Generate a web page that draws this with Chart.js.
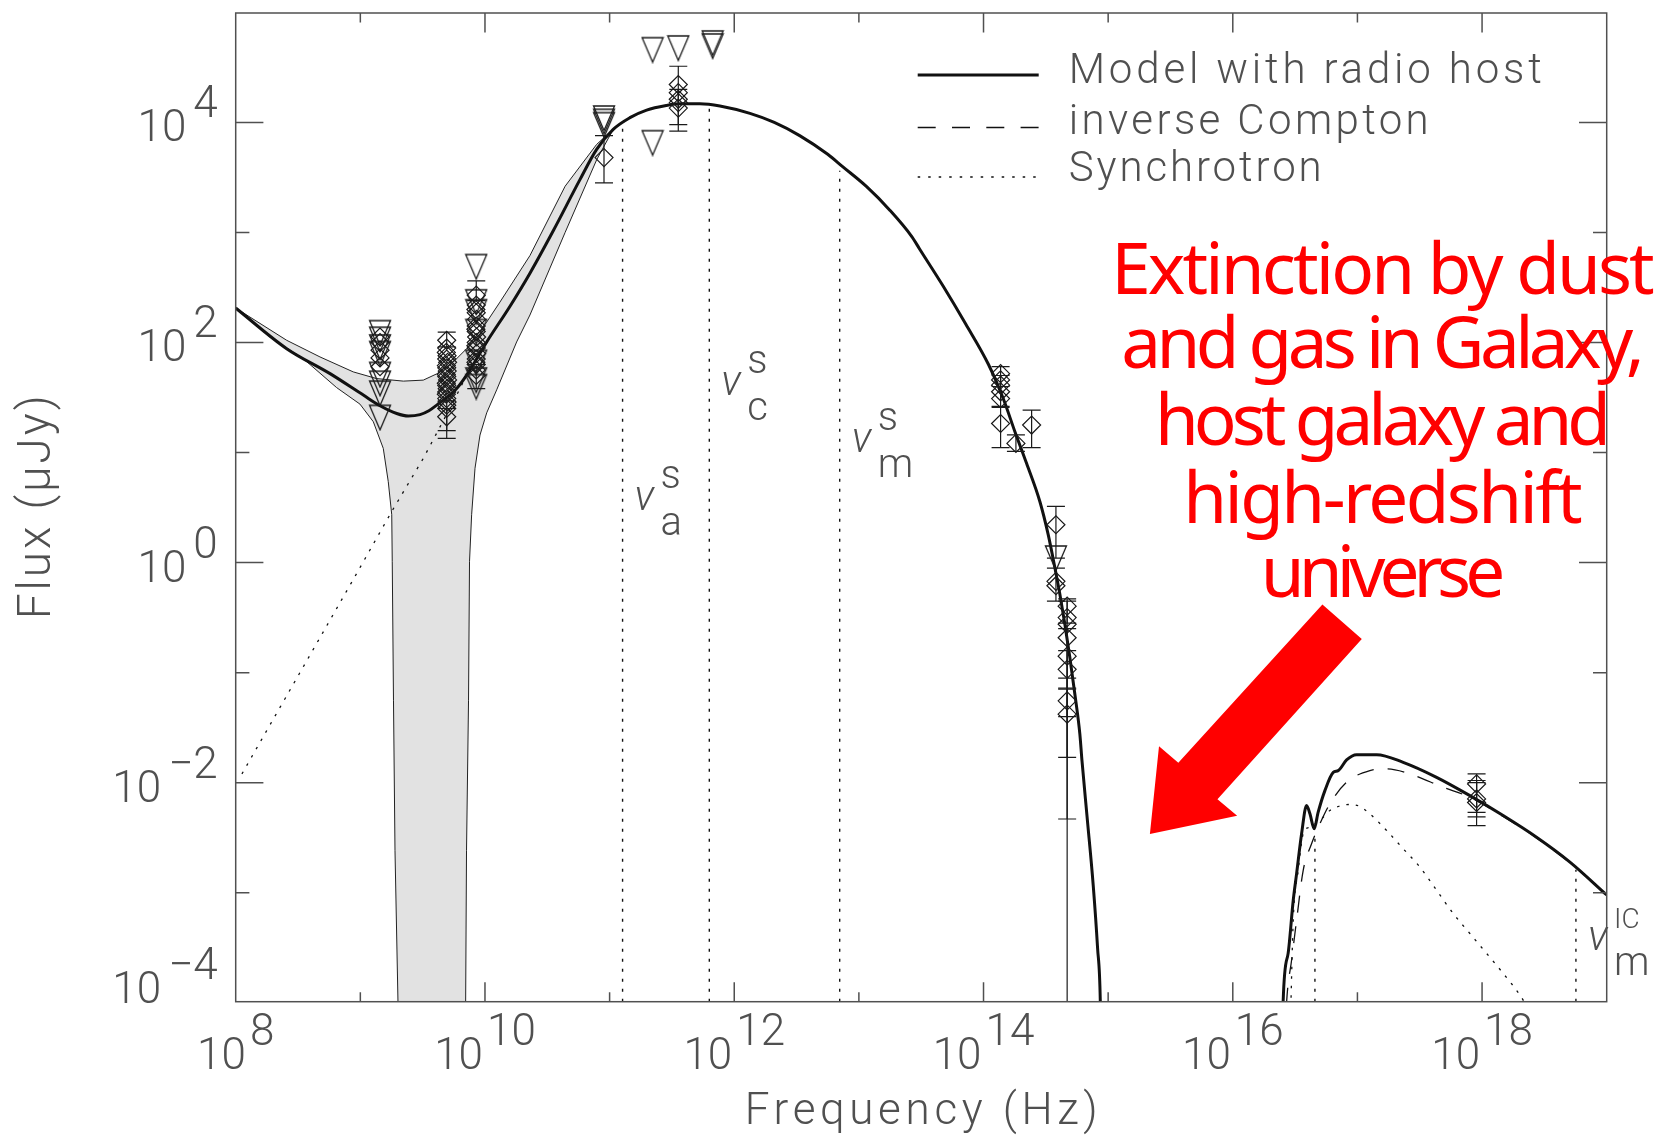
<!DOCTYPE html>
<html>
<head>
<meta charset="utf-8">
<script src="https://cdn.jsdelivr.net/npm/chart.js@4.4.1/dist/chart.umd.min.js"></script>
<style>
html,body{margin:0;padding:0;background:#fff;}
#wrap{position:relative;width:1672px;height:1136px;}
canvas{display:block;}
</style>
</head>
<body>
<div id="wrap"><canvas id="c" width="1672" height="1136"></canvas></div>
<script>
// ---------- DATA (log10 frequency [Hz], log10 flux [µJy]) ----------
const xTickExps = [8, 10, 12, 14, 16, 18];
const yTickExps = [-4, -2, 0, 2, 4];
const xRangeExp = [8, 19];
const yRangeExp = [-3.99, 4.994];

// Model with radio host (solid)
const modelCurve = [
 [8.000,2.313],[8.409,1.944],[8.757,1.717],[9.024,1.522],[9.158,1.425],[9.292,1.355],[9.385,1.332],[9.479,1.345],
 [9.550,1.380],[9.613,1.431],[9.773,1.582],[9.853,1.703],[10.014,2.005],[10.201,2.330],[10.361,2.630],
 [10.550,3.020],[10.762,3.480],[10.896,3.755],[11.029,3.937],[11.163,4.043],[11.297,4.112],[11.457,4.154],
 [11.564,4.169],[11.725,4.169],[11.885,4.149],[12.126,4.082],[12.321,4.000],[12.525,3.880],[12.750,3.710],
 [12.867,3.600],[13.058,3.420],[13.250,3.200],[13.426,2.960],[13.487,2.850],[13.672,2.520],[13.856,2.170],
 [14.040,1.800],[14.158,1.491],[14.252,1.189],[14.346,0.900],[14.452,0.555],[14.519,0.254],[14.573,-0.049],
 [14.613,-0.290],[14.653,-0.562],[14.693,-0.864],[14.733,-1.196],[14.773,-1.558],[14.790,-1.800],[14.830,-2.300],
 [14.880,-2.930],[14.915,-3.500],[14.937,-3.990],[14.960,-6],[16.380,-6],[16.404,-3.989],[16.444,-3.551],
 [16.485,-3.068],[16.512,-2.826],[16.552,-2.464],[16.592,-2.207],[16.619,-2.283],[16.653,-2.418],
 [16.685,-2.268],[16.739,-2.072],[16.806,-1.906],[16.846,-1.890],[16.913,-1.793],[16.993,-1.745],
 [17.154,-1.745],[17.367,-1.815],[17.635,-1.951],[17.902,-2.117],[18.169,-2.298],[18.437,-2.495],
 [18.705,-2.721],[19.000,-3.020]
];
// inverse Compton (dashed)
const icCurve = [
 [16.420,-4.3],[16.432,-3.99],[16.472,-3.611],[16.512,-3.249],[16.565,-2.796],[16.632,-2.554],[16.699,-2.373],
 [16.779,-2.192],[16.913,-1.996],[17.100,-1.890],[17.234,-1.875],[17.421,-1.920],[17.688,-2.042],
 [17.902,-2.132],[18.169,-2.307],[18.437,-2.502],[18.705,-2.728],[19.000,-3.018]
];
// Synchrotron (dotted), radio part and X-ray part
const syncRadio = [[8.05,-1.92],[8.943,-0.154],[9.252,0.465],[9.505,0.947],[9.746,1.461],[9.853,1.703],[10.014,2.005]];
const syncXray = [
 [16.460,-4.3],[16.485,-3.249],[16.525,-2.796],[16.565,-2.464],[16.613,-2.404],[16.699,-2.343],[16.779,-2.253],
 [16.940,-2.198],[17.020,-2.216],[17.100,-2.283],[17.234,-2.434],[17.367,-2.600],[17.501,-2.766],[17.635,-2.977],
 [17.768,-3.188],[17.902,-3.370],[18.036,-3.551],[18.169,-3.732],[18.303,-3.928],[18.380,-4.070]
];
// Shaded uncertainty band (upper and lower boundaries)
const bandUpper = [
 [8.000,2.313],[8.409,2.020],[8.676,1.869],[8.943,1.733],[9.131,1.672],[9.345,1.649],[9.505,1.658],
 [9.613,1.715],[9.746,1.823],[9.853,1.944],[10.014,2.186],[10.120,2.367],[10.361,2.790],[10.643,3.420],
 [10.896,3.800],[11.029,3.937]
];
const bandLower = [
 [8.000,2.313],[8.275,2.049],[8.542,1.853],[8.810,1.590],[8.997,1.440],[9.104,1.280],[9.184,1.038],
 [9.224,0.736],[9.252,0.435],[9.256,0.012],[9.266,-1.256],[9.278,-2.614],[9.302,-3.990],[9.310,-6],
 [9.840,-6],[9.845,-3.990],[9.852,-2.614],[9.868,-1.256],[9.876,0.012],[9.893,0.435],[9.920,0.857],
 [9.960,1.159],[10.014,1.361],[10.094,1.570],[10.254,2.005],[10.361,2.250],[10.643,3.000],[10.896,3.660],
 [11.029,3.937]
];
// Detections: [logNu, logF, errLow, errHigh]
const detections = [
 [9.158,2.05,null,null],[9.158,2.00,null,null],[9.158,1.93,null,null],[9.158,1.86,null,null],[9.158,1.78,null,null],
 [9.693,2.02,1.96,2.095],[9.693,1.95,null,null],[9.690,1.91,null,null],[9.696,1.88,null,null],[9.693,1.85,null,null],
 [9.700,1.82,null,null],[9.690,1.79,null,null],[9.693,1.77,null,null],[9.697,1.74,null,null],[9.690,1.71,null,null],
 [9.693,1.69,null,null],[9.700,1.66,null,null],[9.690,1.63,null,null],[9.693,1.61,null,null],[9.697,1.58,null,null],
 [9.693,1.55,null,null],[9.690,1.53,null,null],[9.693,1.49,null,null],[9.696,1.46,null,null],[9.693,1.43,null,null],
 [9.693,1.40,1.129,1.47],[9.693,1.325,1.20,1.40],
 [9.930,2.43,2.38,2.56],[9.930,2.34,null,null],[9.927,2.30,null,null],[9.930,2.27,null,null],[9.933,2.21,null,null],
 [9.930,2.15,null,null],[9.927,2.12,null,null],[9.930,2.10,null,null],[9.933,2.05,null,null],[9.930,2.00,null,null],
 [9.927,1.97,null,null],[9.930,1.95,null,null],[9.933,1.90,null,null],[9.930,1.85,null,null],[9.927,1.82,null,null],
 [9.930,1.80,null,null],[9.930,1.75,null,null],[9.930,1.70,1.58,1.80],
 [10.955,3.68,3.45,3.88],
 [11.551,4.344,null,null],[11.551,4.27,null,null],[11.551,4.21,3.92,4.51],[11.551,4.18,null,null],[11.551,4.13,3.98,4.30],
 [14.137,1.717,1.60,1.78],[14.137,1.66,null,null],[14.137,1.612,null,null],[14.137,1.552,1.42,1.70],[14.137,1.49,null,null],
 [14.137,1.264,1.045,1.41],[14.260,1.083,1.01,1.16],[14.386,1.25,1.045,1.385],[14.581,0.344,0.04,0.51],
 [14.581,-0.17,-0.35,-0.05],[14.581,-0.21,null,null],
 [14.671,-0.396,-0.55,-0.33],[14.671,-0.50,null,null],[14.671,-0.56,-5,-0.35],[14.671,-0.683,null,null],
 [14.671,-0.85,-1.77,-0.60],[14.671,-0.97,-1.14,-0.80],[14.671,-1.256,-1.40,-1.05],[14.671,-1.377,-2.33,-1.15],
 [17.956,-2.011,-2.27,-1.92],[17.956,-2.147,-2.31,-2.00],[17.956,-2.18,-2.39,-1.98]
];
// Upper limits (inverted triangles): [logNu, logF]
const upperLimits = [
 [9.158,2.09],[9.158,2.03],[9.158,1.96],[9.158,1.90],[9.158,1.71],[9.158,1.63],[9.158,1.54],[9.158,1.32],
 [9.930,2.69],[9.930,2.37],[9.930,2.28],[9.930,2.10],[9.930,1.82],[9.930,1.66],[9.930,1.60],
 [10.955,4.04],[10.955,4.01],[10.955,3.98],[11.345,4.661],[11.345,3.816],[11.551,4.677],[11.827,4.722],[11.827,4.695],
 [14.581,0.042]
];
// Characteristic frequencies (vertical dotted lines): [logNu, top logF]
const markerLines = [[11.104,3.97],[11.800,4.13],[12.846,3.56],[16.659,-2.50],[18.753,-2.79]];
const markerSup = ['s','s','s',null,'IC'];
const markerSub = ['a','c','m',null,'m'];
const markerLabelLogF = [0.474,1.524,1.008,null,-3.521];
// Annotation
const noteLines = ['Extinction by dust','and gas in Galaxy,','host galaxy and','high-redshift','universe'];
const arrowPoly = [[16.719,-0.381],[17.035,-0.694],[15.877,-2.151],[16.035,-2.301],[15.335,-2.467],[15.408,-1.668],[15.563,-1.819]];
const legendLabels = ['Model with radio host','inverse Compton','Synchrotron'];

// ---------- helpers ----------
const toXY = arr => arr.map(p => ({x: Math.pow(10, p[0]), y: Math.pow(10, p[1])}));
const GREY = '#505050';
const AX_FONT = '300 44px Roboto, "DejaVu Sans", sans-serif';

// inverted-triangle marker image
const triImg = document.createElement('canvas');
triImg.width = 24; triImg.height = 28;
(function () {
  const t = triImg.getContext('2d');
  t.strokeStyle = '#1a1a1a'; t.lineWidth = 1.3; t.lineJoin = 'miter';
  t.beginPath(); t.moveTo(1.5, 2); t.lineTo(22.5, 2); t.lineTo(12, 26.5); t.closePath(); t.stroke();
})();

function fitText(ctx, text, x, y, target, align) {
  ctx.letterSpacing = '0px';
  const n = [...text].length;
  const w0 = ctx.measureText(text).width;
  let ls = 0;
  if (target && n > 1) ls = (target - w0) / (n - 1);
  if ('letterSpacing' in ctx) ctx.letterSpacing = ls + 'px'; else ls = 0;
  const vis = w0 + ls * (n - 1);
  let x0 = x;
  if (align === 'center') x0 = x - vis / 2; else if (align === 'right') x0 = x - vis;
  ctx.textAlign = 'left';
  ctx.fillText(text, x0, y);
  ctx.letterSpacing = '0px';
}

function drawPow(ctx, exp, x, baseY, align, gap) {
  ctx.font = AX_FONT;
  ctx.letterSpacing = '0px';
  const base = '10';
  const ex = exp < 0 ? '\u2212' + (-exp) : String(exp);
  const wb = ctx.measureText(base).width;
  const we = ctx.measureText(ex).width;
  const total = wb + gap + we;
  let x0 = x;
  if (align === 'center') x0 = x - total / 2; else if (align === 'right') x0 = x - total;
  ctx.textAlign = 'left';
  ctx.textBaseline = 'alphabetic';
  ctx.fillText(base, x0, baseY);
  ctx.fillText(ex, x0 + wb + gap, baseY - 24);
}

const decor = {
  id: 'decor',
  beforeDraw(chart) {
    const {ctx, width, height} = chart;
    ctx.save(); ctx.fillStyle = '#ffffff'; ctx.fillRect(0, 0, width, height); ctx.restore();
  },
  afterDatasetsDraw(chart) {
    const {ctx, chartArea: a, scales: {x, y}} = chart;
    ctx.save();
    ctx.beginPath(); ctx.rect(a.left, a.top, a.right - a.left, a.bottom - a.top); ctx.clip();
    ctx.strokeStyle = '#1a1a1a'; ctx.lineWidth = 1.2;
    detections.forEach(d => {
      if (d[2] == null) return;
      const px = x.getPixelForValue(Math.pow(10, d[0]));
      const y1 = y.getPixelForValue(Math.pow(10, d[2]));
      const y2 = y.getPixelForValue(Math.pow(10, d[3]));
      ctx.beginPath();
      ctx.moveTo(px, y1); ctx.lineTo(px, y2);
      ctx.moveTo(px - 9, y1); ctx.lineTo(px + 9, y1);
      ctx.moveTo(px - 9, y2); ctx.lineTo(px + 9, y2);
      ctx.stroke();
    });
    ctx.restore();
  },
  afterDraw(chart) {
    const {ctx, chartArea: a, scales: {x, y}} = chart;
    ctx.save();
    // frame
    ctx.strokeStyle = GREY; ctx.lineWidth = 1.5; ctx.setLineDash([]);
    ctx.strokeRect(a.left, a.top, a.right - a.left, a.bottom - a.top);
    ctx.beginPath();
    for (let e = xRangeExp[0] + 1; e < xRangeExp[1]; e++) {
      const px = x.getPixelForValue(Math.pow(10, e));
      const L = e % 2 === 0 ? 19.5 : 9.5;
      ctx.moveTo(px, a.bottom); ctx.lineTo(px, a.bottom - L);
      ctx.moveTo(px, a.top); ctx.lineTo(px, a.top + L);
    }
    for (let e = Math.ceil(yRangeExp[0]); e <= Math.floor(yRangeExp[1]); e++) {
      const py = y.getPixelForValue(Math.pow(10, e));
      const L = e % 2 === 0 ? 27.7 : 13.7;
      ctx.moveTo(a.left, py); ctx.lineTo(a.left + L, py);
      ctx.moveTo(a.right, py); ctx.lineTo(a.right - L, py);
    }
    ctx.stroke();
    // tick labels
    ctx.fillStyle = GREY;
    xTickExps.forEach(e => drawPow(ctx, e, x.getPixelForValue(Math.pow(10, e)), a.bottom + 67, 'center', 4));
    yTickExps.forEach(e => {
      const py = y.getPixelForValue(Math.pow(10, e));
      drawPow(ctx, e, a.left - 18, Math.min(py + 19, a.bottom + 1), 'right', 7);
    });
    // axis titles
    ctx.font = '300 44px Roboto, "DejaVu Sans", sans-serif';
    fitText(ctx, 'Frequency (Hz)', (a.left + a.right) / 2, a.bottom + 122, 353, 'center');
    ctx.save();
    ctx.translate(50, (a.top + a.bottom) / 2);
    ctx.rotate(-Math.PI / 2);
    ctx.font = '300 46px Roboto, "DejaVu Sans", sans-serif';
    fitText(ctx, 'Flux (\u03BCJy)', 0, 0, 224, 'center');
    ctx.restore();
    // legend
    const lx0 = a.left + 682, lx1 = a.left + 803, tx = a.left + 833;
    const rowLine = [75, 127.5, 177], rowBase = [82.5, 133.5, 181], rowW = [473, 360, 253];
    const styles = [{w: 3, dash: []}, {w: 1.3, dash: [18, 16.3]}, {w: 1.3, dash: [2.5, 8]}];
    legendLabels.forEach((t, i) => {
      ctx.strokeStyle = '#111'; ctx.lineWidth = styles[i].w; ctx.setLineDash(styles[i].dash);
      ctx.beginPath(); ctx.moveTo(lx0, rowLine[i]); ctx.lineTo(lx1, rowLine[i]); ctx.stroke();
      ctx.setLineDash([]);
      ctx.fillStyle = GREY;
      ctx.font = '300 42px Roboto, "DejaVu Sans", sans-serif';
      fitText(ctx, t, tx, rowBase[i], rowW[i], 'left');
    });
    // nu labels
    markerLines.forEach((m, i) => {
      if (!markerSup[i]) return;
      const px = x.getPixelForValue(Math.pow(10, m[0])) + 12;
      const by = y.getPixelForValue(Math.pow(10, markerLabelLogF[i]));
      ctx.fillStyle = GREY;
      ctx.font = 'italic 300 42px Roboto, "DejaVu Sans", sans-serif';
      ctx.textAlign = 'left';
      ctx.fillText('\u03BD', px, by);
      ctx.font = (markerSup[i] === 'IC' ? '300 28px' : '300 40px') + ' Roboto, "DejaVu Sans", sans-serif';
      ctx.fillText(markerSup[i], px + 26, by - 22);
      ctx.font = '300 40px Roboto, "DejaVu Sans", sans-serif';
      ctx.fillText(markerSub[i], px + 26, by + 25);
    });
    // red annotation
    ctx.fillStyle = '#ff0000';
    ctx.beginPath();
    arrowPoly.forEach((p, i) => {
      const px = x.getPixelForValue(Math.pow(10, p[0]));
      const py = y.getPixelForValue(Math.pow(10, p[1]));
      if (i === 0) ctx.moveTo(px, py); else ctx.lineTo(px, py);
    });
    ctx.closePath(); ctx.fill();
    ctx.font = '400 71px "Noto Sans", sans-serif';
    const noteBase = [293.6, 367.9, 444.6, 523.2, 596.7];
    const noteW = [543.5, 523.5, 456, 399.5, 244.5];
    noteLines.forEach((t, i) => fitText(ctx, t, 1383, noteBase[i], noteW[i], 'center'));
    ctx.restore();
  }
};

const lineBase = {type: 'line', pointRadius: 0, pointHoverRadius: 0, fill: false, borderColor: '#111'};

const cfg = {
  type: 'scatter',
  data: {
    datasets: [
      {label: 'Detections', type: 'scatter', data: toXY(detections), pointStyle: 'rectRot', pointRadius: 9,
       borderColor: '#1a1a1a', borderWidth: 1.2, backgroundColor: 'rgba(0,0,0,0)', order: 0},
      {label: 'Upper limits', type: 'scatter', data: toXY(upperLimits), pointStyle: triImg,
       pointRadius: 12, order: 0},
      Object.assign({}, lineBase, {label: 'Model with radio host', data: toXY(modelCurve), borderWidth: 3,
       cubicInterpolationMode: 'monotone', order: 1}),
      Object.assign({}, lineBase, {label: 'inverse Compton', data: toXY(icCurve), borderWidth: 1.3,
       borderDash: [17, 14], cubicInterpolationMode: 'monotone', order: 2}),
      Object.assign({}, lineBase, {label: 'Synchrotron', data: toXY(syncRadio), borderWidth: 1.3,
       borderDash: [2.5, 7], order: 3}),
      Object.assign({}, lineBase, {label: 'Synchrotron X', data: toXY(syncXray), borderWidth: 1.3,
       borderDash: [2.5, 7], cubicInterpolationMode: 'monotone', order: 3}),
      ...markerLines.map((m, i) => Object.assign({}, lineBase, {label: 'marker' + i,
        data: toXY([[m[0], yRangeExp[0] - 1], [m[0], m[1]]]), borderWidth: 1.4, borderDash: [3, 7], order: 4})),
      Object.assign({}, lineBase, {label: 'band', data: toXY(bandUpper.concat(bandLower.slice().reverse())),
        borderWidth: 1, borderColor: '#222', backgroundColor: '#e2e2e2', fill: 'shape', tension: 0, order: 10})
    ]
  },
  options: {
    responsive: false,
    animation: false,
    layout: {padding: {left: 235.7, right: 65.3, top: 10, bottom: 134.3}},
    scales: {
      x: {type: 'logarithmic', display: false, min: Math.pow(10, xRangeExp[0]), max: Math.pow(10, xRangeExp[1])},
      y: {type: 'logarithmic', display: false, min: Math.pow(10, yRangeExp[0]), max: Math.pow(10, yRangeExp[1])}
    },
    plugins: {legend: {display: false}, tooltip: {enabled: false}}
  },
  plugins: [decor]
};
new Chart(document.getElementById('c'), cfg);
</script>
</body>
</html>
